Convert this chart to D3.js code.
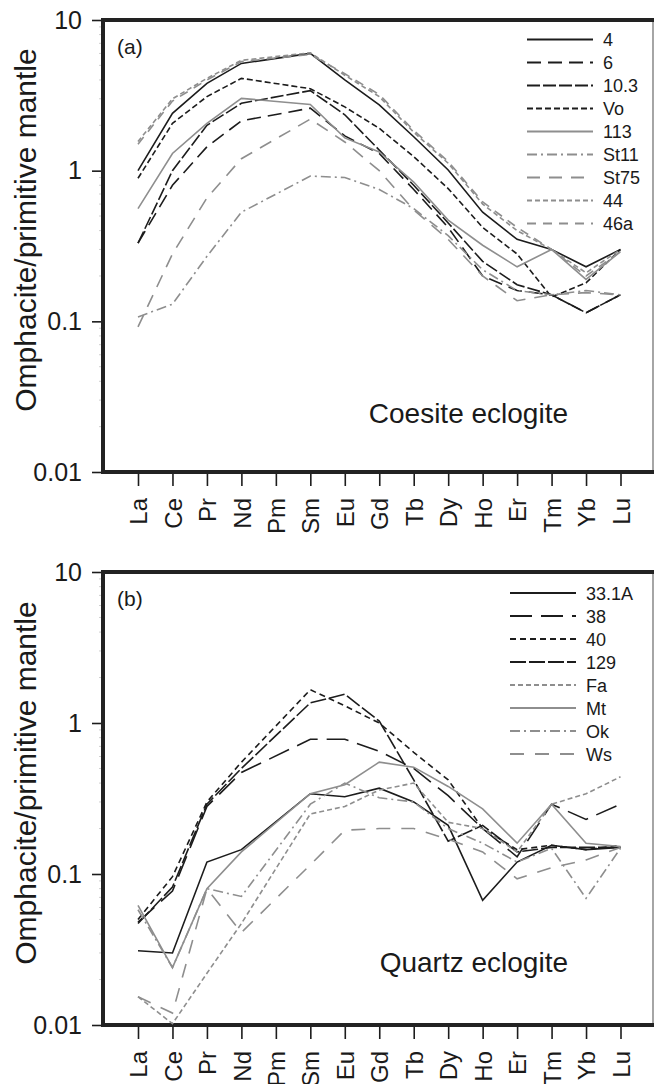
<!DOCTYPE html>
<html>
<head>
<meta charset="utf-8">
<script src="https://cdn.jsdelivr.net/npm/d3@7"></script>
<style>
  body { margin: 0; background: #fff; }
  text { font-family: "Liberation Sans", Arial, sans-serif; fill: #1a1a1a; }
</style>
</head>
<body>
<div id="vis"></div>
<script>
// REE elements (Pm has no data, lines go straight Nd -> Sm)
const elements = ["La","Ce","Pr","Nd","Pm","Sm","Eu","Gd","Tb","Dy","Ho","Er","Tm","Yb","Lu"];
const yTicks = [0.01, 0.1, 1, 10];
const yTickLabels = ["0.01", "0.1", "1", "10"];

// panel (a) coesite eclogite
const a4    = [1.0, 2.4, 3.8, 5.15, null, 6.0, 4.0, 2.73, 1.68, 1.01, 0.53, 0.35, 0.30, 0.23, 0.30];
const a6    = [0.33, 0.8, 1.44, 2.14, null, 2.6, 1.7, 1.3, 0.75, 0.42, 0.2, 0.16, 0.15, 0.114, 0.15];
const a10_3 = [0.33, 1.0, 2.0, 2.8, null, 3.4, 2.35, 1.37, 0.8, 0.45, 0.25, 0.175, 0.15, 0.114, 0.15];
const aVo   = [0.89, 2.06, 3.1, 4.1, null, 3.5, 2.65, 1.91, 1.24, 0.76, 0.42, 0.28, 0.145, 0.18, 0.30];
const a113  = [0.56, 1.3, 2.06, 3.02, null, 2.75, 1.65, 1.33, 0.84, 0.47, 0.32, 0.23, 0.30, 0.19, 0.29];
const aSt11 = [0.107, 0.13, 0.27, 0.53, null, 0.92, 0.9, 0.75, 0.56, 0.37, 0.22, 0.16, 0.15, 0.16, 0.15];
const aSt75 = [0.092, 0.28, 0.66, 1.2, null, 2.2, 1.55, 1.0, 0.55, 0.35, 0.2, 0.137, 0.15, 0.155, 0.15];
const a44   = [1.56, 3.0, 4.1, 5.4, null, 6.06, 4.3, 3.1, 1.8, 1.12, 0.6, 0.4, 0.30, 0.21, 0.30];
const a46a  = [1.5, 2.9, 4.0, 5.3, null, 5.9, 4.4, 3.2, 1.85, 1.15, 0.62, 0.42, 0.30, 0.20, 0.29];
const namesA = ["4", "6", "10.3", "Vo", "113", "St11", "St75", "44", "46a"];
const valuesA = [a4, a6, a10_3, aVo, a113, aSt11, aSt75, a44, a46a];

// panel (b) quartz eclogite
const b33_1A = [0.031, 0.030, 0.12, 0.145, null, 0.34, 0.325, 0.37, 0.30, 0.21, 0.067, 0.12, 0.155, 0.145, 0.15];
const b38    = [0.048, 0.077, 0.28, 0.47, null, 0.78, 0.78, 0.65, 0.5, 0.33, 0.2, 0.13, 0.29, 0.23, 0.29];
const b40    = [0.05, 0.096, 0.3, 0.55, null, 1.66, 1.3, 1.0, 0.64, 0.42, 0.2, 0.145, 0.155, 0.145, 0.155];
const b129   = [0.047, 0.082, 0.29, 0.5, null, 1.36, 1.55, 1.03, 0.42, 0.165, 0.21, 0.14, 0.15, 0.15, 0.15];
const bFa    = [0.0154, 0.0102, 0.022, 0.047, null, 0.25, 0.28, 0.36, 0.40, 0.22, 0.2, 0.14, 0.29, 0.34, 0.44];
const bMt    = [0.062, 0.024, 0.08, 0.14, null, 0.34, 0.39, 0.55, 0.51, 0.38, 0.27, 0.16, 0.29, 0.16, 0.152];
const bOk    = [0.058, 0.024, 0.08, 0.071, null, 0.29, 0.4, 0.32, 0.30, 0.2, 0.16, 0.12, 0.148, 0.069, 0.148];
const bWs    = [0.0154, 0.012, 0.08, 0.041, null, 0.115, 0.195, 0.2, 0.2, 0.17, 0.14, 0.093, 0.11, 0.124, 0.15];
const namesB = ["33.1A", "38", "40", "129", "Fa", "Mt", "Ok", "Ws"];
const valuesB = [b33_1A, b38, b40, b129, bFa, bMt, bOk, bWs];

const black = "#1c1c1c", grey = "#8e8e8e";
const stylesA = [
  {c: black, d: null}, {c: black, d: "14,7"}, {c: black, d: "13,3"}, {c: black, d: "6,3"},
  {c: grey, d: null}, {c: grey, d: "10,4,2,4"}, {c: grey, d: "13,9"}, {c: grey, d: "5,3"}, {c: grey, d: "9,7"}
];
const stylesB = [
  {c: black, d: null}, {c: black, d: "22,9"}, {c: black, d: "6,4"}, {c: black, d: "16,3"},
  {c: grey, d: "5,3"}, {c: grey, d: null}, {c: grey, d: "10,4,2,4"}, {c: grey, d: "14,11"}
];

const W = 654, H = 1084;
const plotLeft = 103, plotRight = 653;

const svg = d3.select("#vis").append("svg")
    .attr("width", W).attr("height", H);

function drawPanel(p) {
    const g = svg.append("g");
    const x = d3.scalePoint().domain(elements).range([138, 620.5]);
    const y = d3.scaleLog().domain([0.01, 10]).range([p.bottom, p.top]);

    // minor ticks (faint)
    const minors = [];
    [0.01, 0.1, 1].forEach(b => { for (let k = 2; k <= 9; k++) minors.push(b * k); });
    g.selectAll(".minor").data(minors).join("line")
        .attr("x1", plotLeft - 4).attr("x2", plotLeft)
        .attr("y1", d => y(d)).attr("y2", d => y(d))
        .attr("stroke", "#cfcfcf").attr("stroke-width", 1);

    // y axis
    const yAxis = g.append("g")
        .attr("transform", `translate(${plotLeft},0)`)
        .call(d3.axisLeft(y).tickValues(yTicks).tickSize(11).tickPadding(10)
            .tickFormat((d, i) => yTickLabels[i]));
    yAxis.select(".domain").remove();
    yAxis.selectAll(".tick line").attr("stroke", black).attr("stroke-width", 1.6);
    yAxis.selectAll(".tick text").style("font-size", "25px").attr("fill", black)
        .style("font-family", "'Liberation Sans', Arial, sans-serif");

    // x axis
    const xAxis = g.append("g")
        .attr("transform", `translate(0,${p.bottom})`)
        .call(d3.axisBottom(x).tickSize(14));
    xAxis.select(".domain").remove();
    xAxis.selectAll(".tick line").attr("stroke", black).attr("stroke-width", 1.6);
    xAxis.selectAll(".tick text")
        .attr("transform", "rotate(-90)")
        .attr("x", -26).attr("y", 0).attr("dy", "0.36em")
        .attr("text-anchor", "end")
        .style("font-size", "24px").attr("fill", black)
        .style("font-family", "'Liberation Sans', Arial, sans-serif");

    // frame
    g.append("line").attr("x1", plotRight).attr("x2", plotRight)
        .attr("y1", p.top).attr("y2", p.bottom)
        .attr("stroke", "#6a6a6a").attr("stroke-width", 1.2);
    g.append("line").attr("x1", plotLeft).attr("x2", plotRight + 1)
        .attr("y1", p.top).attr("y2", p.top)
        .attr("stroke", "#222").attr("stroke-width", 4);
    g.append("line").attr("x1", plotLeft).attr("x2", plotRight + 1)
        .attr("y1", p.bottom).attr("y2", p.bottom)
        .attr("stroke", "#222").attr("stroke-width", 4);
    g.append("line").attr("x1", plotLeft).attr("x2", plotLeft)
        .attr("y1", p.top - 2).attr("y2", p.bottom + 2)
        .attr("stroke", "#222").attr("stroke-width", 4);

    // series lines
    const series = p.names.map((n, i) => ({
        name: n, style: p.styles[i],
        pts: elements.map((e, j) => ({el: e, v: p.values[i][j]})).filter(d => d.v !== null)
    }));
    const lineGen = d3.line().x(d => x(d.el)).y(d => y(d.v));
    g.selectAll(".ree-line").data(series).join("path")
        .attr("class", "ree-line")
        .attr("fill", "none")
        .attr("stroke", d => d.style.c)
        .attr("stroke-width", 1.6)
        .attr("stroke-dasharray", d => d.style.d)
        .attr("d", d => lineGen(d.pts));

    // legend
    const row = g.selectAll(".legend-row").data(series).join("g")
        .attr("class", "legend-row")
        .attr("transform", (d, i) => `translate(0,${p.legendTop + i * p.legendStep})`);
    row.append("line")
        .attr("x1", p.legendX).attr("x2", p.legendX + 66)
        .attr("stroke", d => d.style.c).attr("stroke-width", 1.8)
        .attr("stroke-dasharray", d => d.style.d);
    row.append("text")
        .attr("x", p.legendX + 76).attr("y", 6.5)
        .style("font-size", "18px")
        .text(d => d.name);

    // panel letter, rock type, y title
    g.append("text").attr("x", 117).attr("y", p.top + 34)
        .style("font-size", "21px").text(p.letter);
    g.append("text").attr("x", 568).attr("y", p.rockY)
        .attr("text-anchor", "end")
        .style("font-size", "28px").text(p.rock);
    g.append("text")
        .attr("transform", `translate(36,${p.titleY}) rotate(-90)`)
        .attr("text-anchor", "middle")
        .style("font-size", "30px")
        .text("Omphacite/primitive mantle");
}

drawPanel({top: 20, bottom: 472, names: namesA, values: valuesA, styles: stylesA,
    legendX: 527, legendTop: 39.5, legendStep: 23, letter: "(a)",
    rock: "Coesite eclogite", rockY: 423, titleY: 230});
drawPanel({top: 572, bottom: 1025, names: namesB, values: valuesB, styles: stylesB,
    legendX: 510, legendTop: 593, legendStep: 23, letter: "(b)",
    rock: "Quartz eclogite", rockY: 972, titleY: 783});
</script>
</body>
</html>
